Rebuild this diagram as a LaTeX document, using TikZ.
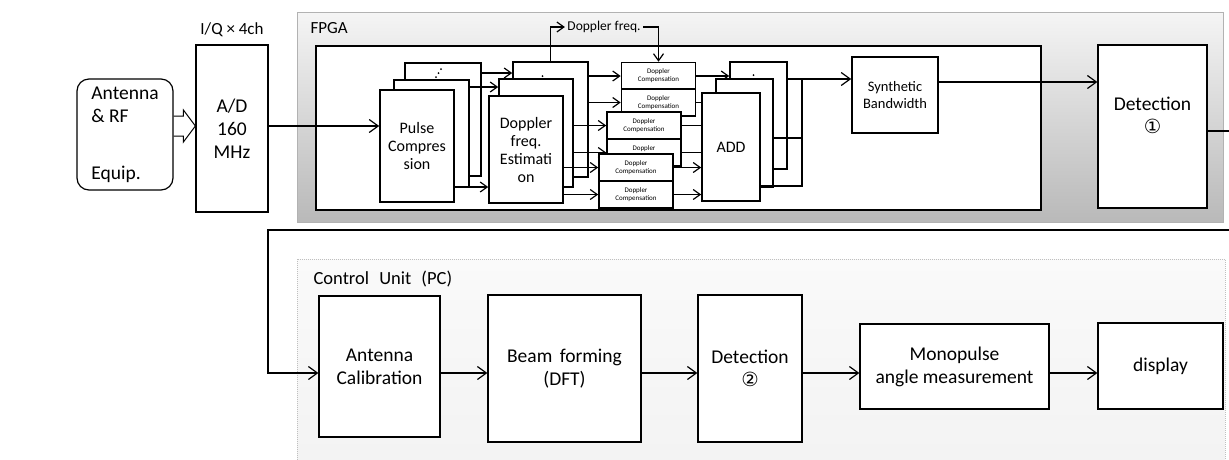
\documentclass[tikz,border=0pt]{standalone}
\usepackage{fontspec}
\setmainfont{Carlito}
\newfontfamily\circfont{DejaVu Sans}
\usetikzlibrary{positioning,calc,arrows.meta}

\begin{document}
\begin{tikzpicture}[x=1pt, y=-1pt,
                line width=1.2pt,
                arr/.style={-{Straight Barb[length=9pt,width=13pt]}},
                sarr/.style={-{Straight Barb[length=7pt,width=10pt]}},
                blk/.style={draw, fill=white, align=center, inner sep=1pt,
                            font=\fontsize{19.5}{23}\selectfont},
                fblk/.style={draw, fill=white, align=center, inner sep=1pt,
                            line width=1.6pt, font=\fontsize{16}{18}\selectfont},
                dcblk/.style={fblk, minimum width=74pt, minimum height=27pt,
                            font=\fontsize{7}{8}\selectfont},
                lbl/.style={font=\fontsize{17}{20}\selectfont, inner sep=0pt}]
                \useasboundingbox (0,0) rectangle (1229,459);
                \draw[gray!60, line width=1pt, top color=gray!8, bottom color=gray!55] (297,12) rectangle (1223,222);
                \draw[gray!50, densely dotted, line width=1pt, top color=gray!4, bottom color=gray!10] (297,259) rectangle (1225,480);
                \draw[fill=white] (316,46) rectangle (1041,210);
                \node[lbl, anchor=west] (fpga) at (310,28) {FPGA};
                \node[lbl, anchor=west, font=\fontsize{18.5}{20}\selectfont] (cu) at (313,279) {Control\hspace{6pt} Unit\hspace{6pt} (PC)};
                \node[lbl] (iq) at (232,30) {I/Q × 4ch};

                \node[blk, rounded corners=12pt, minimum width=96pt, minimum height=111pt, align=left] (ant) at (125,134.5) {Antenna\\\& RF\\[34pt]Equip.};
                \node[blk, minimum width=72pt, minimum height=167pt] (ad) at (232,128.5) {A/D\\160\\MHz};
                \coordinate (hs) at (ant.east |- 0,126);
                \coordinate (he) at (ad.west |- 0,126);
                \draw[line width=1pt] ($(hs)+(0,-10)$) -- ($(he)+(-12,-10)$) -- ($(he)+(-12,-16)$) -- (he)
                    -- ($(he)+(-12,16)$) -- ($(he)+(-12,10)$) -- ($(hs)+(0,10)$);

                \node[fblk, minimum width=76pt, minimum height=113pt] (pc1) at (443,119.5) {};
                \node[fblk, minimum width=75pt, minimum height=115pt] (dfe1) at (550.5,119.5) {};
                \node[dcblk] (dc1a) at (658.5,76) {Doppler\\Compensation};
                \node[dcblk] (dc1b) at (658.5,102.5) {Doppler\\Compensation};
                \node[fblk, minimum width=57pt, minimum height=107pt] (add1) at (758.5,115.5) {};
                \node[fblk, minimum width=86pt, minimum height=76pt, font=\fontsize{14.5}{17}\selectfont] (sb) at (895,95) {Synthetic\\Bandwidth};
                \node[blk, minimum width=109pt, minimum height=163pt] (det1) at (1152.5,126.5) {Detection\\{\circfont ①}\\\mbox{}};
                \fill ($(pc1.north)+(-7,15)$) circle[radius=1pt] ($(pc1.north)+(-4.5,11)$) circle[radius=1pt] ($(pc1.north)+(-2,7)$) circle[radius=1pt];
                \fill ($(dfe1.north)+(-10,20)$) circle[radius=1pt] ($(dfe1.north)+(-8,15)$) circle[radius=1pt];
                \fill ($(add1.north)+(-8,21)$) circle[radius=1pt] ($(add1.north)+(-5,14)$) circle[radius=1pt];
                \draw[sarr] (pc1.east |- 0,73) -- (dfe1.west |- 0,73);
                \draw[sarr] (dfe1.east |- dc1a.west) -- (dc1a.west);
                \draw[sarr] (dfe1.east |- dc1b.west) -- (dc1b.west);
                \draw[sarr] (dc1a.east) -- (dc1a.east -| add1.west);
                \node[font=\fontsize{13.5}{15}\selectfont, inner sep=2pt] (dopf) at (604,27) {Doppler freq.};
                \draw[sarr] (dfe1.north) |- (dopf.west);
                \draw[sarr] (dopf.east) -| (dc1a.north);
                \coordinate (merge) at (802,79);
                \draw[arr] (add1.east |- merge) -- (sb.west |- merge);

                \node[fblk, minimum width=75pt, minimum height=107pt] (pc2) at (431.5,133.5) {};
                \node[fblk, minimum width=74pt, minimum height=108pt] (dfe2) at (536,133) {};
                \node[dcblk] (dc2a) at (644,125.5) {Doppler\\Compensation};
                \node[dcblk] (dc2b) at (644,152.5) {Doppler\\Compensation};
                \draw[sarr] (dc1b.east) -- (dc1b.east -| add1.west);
                \draw[sarr] (dc2a.east) -- (dc2a.east -| add1.west);
                \draw[sarr] (dc2b.east) -- (dc2b.east -| add1.west);
                \node[fblk, minimum width=57pt, minimum height=108pt] (add2) at (744.5,133) {};
                \draw[sarr] (pc2.east |- 0,87) -- (dfe2.west |- 0,87);
                \draw[sarr] (dfe2.east |- dc2a.west) -- (dc2a.west);
                \draw[sarr] (dfe2.east |- dc2b.west) -- (dc2b.west);
                \draw (add2.east |- 0,138) -| (merge);

                \node[fblk, minimum width=74pt, minimum height=112pt] (pc3) at (417,146) {Pulse\\Compres\\sion};
                \node[fblk, minimum width=74pt, minimum height=107pt] (dfe3) at (526,149.5) {Doppler\\freq.\\Estimati\\on};
                \node[dcblk] (dc3a) at (636,167.5) {Doppler\\Compensation};
                \node[dcblk] (dc3b) at (636,194.5) {Doppler\\Compensation};
                \node[fblk, minimum width=58pt, minimum height=108pt] (add3) at (731,147) {ADD};
                \draw[arr] (ad.east |- 0,126) -- (pc3.west |- 0,126);
                \draw[sarr] (pc3.east |- 0,187) -- (dfe3.west |- 0,187);
                \draw[sarr] (dfe3.east |- dc3a.west) -- (dc3a.west);
                \draw[sarr] (dfe3.east |- dc3b.west) -- (dc3b.west);
                \draw[sarr] (dc3a.east) -- (add3.west |- dc3a.east);
                \draw[sarr] (dc3b.east) -- (add3.west |- dc3b.east);
                \draw (add3.east |- 0,186) -| (merge);
                \draw[arr] (sb.east |- 0,82) -- (det1.west |- 0,82);

                \node[blk, minimum width=121pt, minimum height=141pt] (calib) at (379.5,366.5) {Antenna\\Calibration};
                \node[blk, minimum width=153pt, minimum height=147pt] (beam) at (564.5,368.5) {Beam\hspace{3pt} forming\\(DFT)};
                \node[blk, minimum width=104pt, minimum height=147pt] (det2) at (750,368.5) {Detection\\{\circfont ②}};
                \node[blk, minimum width=189pt, minimum height=85pt] (mono) at (954.5,366.5) {Monopulse\\angle measurement};
                \node[blk, minimum width=125pt, minimum height=86pt] (disp) at (1160.5,366) {display};
                \coordinate (lowrow) at (0,373);
                \coordinate (turnR) at (1240,131);
                \coordinate (turnL) at (268,230);
                \draw[arr] (det1.east |- turnR) -- (turnR) |- (turnL) |- (calib.west |- lowrow);
                \draw[arr] (calib.east |- lowrow) -- (beam.west |- lowrow);
                \draw[arr] (beam.east |- lowrow) -- (det2.west |- lowrow);
                \draw[arr] (det2.east |- lowrow) -- (mono.west |- lowrow);
                \draw[arr] (mono.east |- lowrow) -- (disp.west |- lowrow);
            \end{tikzpicture}
\end{document}
